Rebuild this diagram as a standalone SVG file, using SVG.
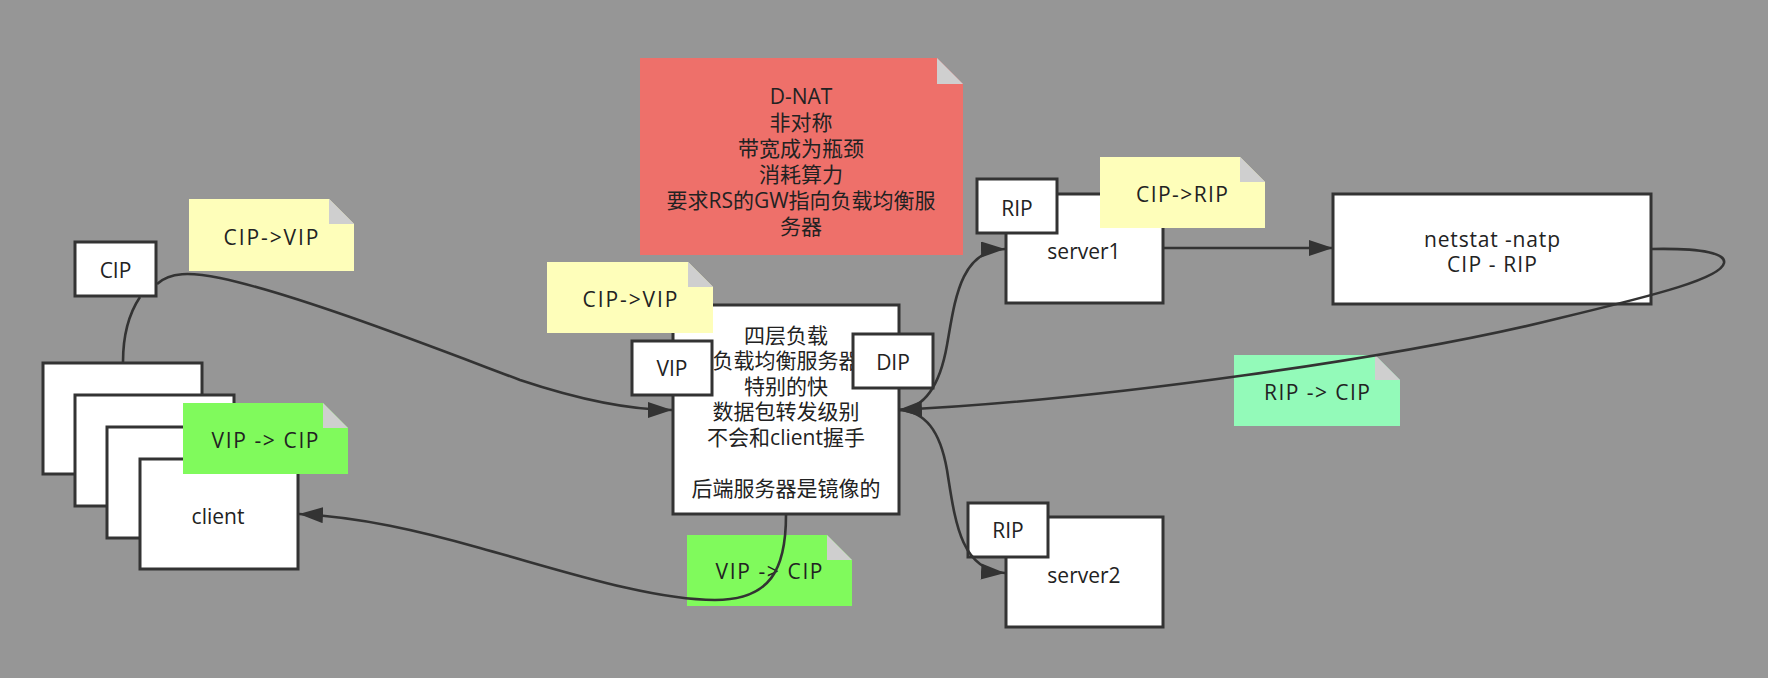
<svg xmlns="http://www.w3.org/2000/svg" width="1768" height="678" viewBox="0 0 1768 678">
  <style>
    text { font-family: 'Open Sans', 'Noto Sans CJK SC', sans-serif; font-size: 21px; fill: #222; text-anchor: middle; }
    .box { fill: #fff; stroke: #333; stroke-width: 3; }
    .fold { fill: #cfcfcf; }
    .yellow { fill: #fefeba; }
    .green { fill: #80fa5c; }
    .mint { fill: #93fab9; }
    .red { fill: #ee706a; }
    .edge { fill: none; stroke: #333; stroke-width: 2.6; }
  </style>
  <defs>
    <marker id="arrow" markerUnits="userSpaceOnUse" markerWidth="26" markerHeight="18" refX="24" refY="8" orient="auto">
      <path d="M0,0 L24,8 L0,16 Z" fill="#333"/>
    </marker>
  </defs>

  <rect width="1768" height="678" fill="#969696"/>

  <!-- client stack -->
  <g id="client">
    <rect class="box" x="43" y="363" width="159" height="111"/>
    <rect class="box" x="75" y="395" width="159" height="111"/>
    <rect class="box" x="107" y="427" width="159" height="111"/>
    <rect class="box" x="140" y="459" width="158" height="110"/>
    <text x="218" y="524">client</text>
  </g>

  <g id="cip">
    <rect class="box" x="75" y="242" width="81" height="54"/>
    <text x="115.5" y="278">CIP</text>
  </g>

  <!-- layer-4 load balancer -->
  <g id="lb">
    <rect class="box" x="673" y="305" width="226" height="209"/>
    <text x="786" y="342.6">四层负载<tspan x="786" dy="25.6">负载均衡服务器</tspan><tspan x="786" dy="25.6">特别的快</tspan><tspan x="786" dy="25.6">数据包转发级别</tspan><tspan x="786" dy="25.6">不会和client握手</tspan><tspan x="786" dy="51.2">后端服务器是镜像的</tspan></text>
  </g>

  <g id="vip">
    <rect class="box" x="632" y="341" width="80" height="54"/>
    <text x="672" y="376">VIP</text>
  </g>

  <g id="dip">
    <rect class="box" x="853" y="334" width="80" height="54"/>
    <text x="893" y="370">DIP</text>
  </g>

  <g id="server1">
    <rect class="box" x="1006" y="194" width="157" height="109"/>
    <text x="1084" y="259">server1</text>
  </g>

  <g id="rip1">
    <rect class="box" x="977" y="179" width="80" height="54"/>
    <text x="1017" y="215.5">RIP</text>
  </g>

  <g id="netstat">
    <rect class="box" x="1333" y="194" width="318" height="110"/>
    <text x="1492" y="247" textLength="136" lengthAdjust="spacing">netstat -natp</text>
    <text x="1492" y="272" textLength="90" lengthAdjust="spacing">CIP - RIP</text>
  </g>

  <g id="server2">
    <rect class="box" x="1006" y="517" width="157" height="110"/>
    <text x="1084" y="583">server2</text>
  </g>

  <g id="rip2">
    <rect class="box" x="968" y="503" width="80" height="54"/>
    <text x="1008" y="538">RIP</text>
  </g>

  <!-- notes: body with folded top-right corner -->
  <g id="note-cip-vip-1">
    <path class="yellow" d="M189,199 H329 L354,224 V271 H189 Z"/>
    <path class="fold" d="M329,199 V224 H354 Z"/>
    <text x="271" y="245" textLength="95" lengthAdjust="spacing">CIP-&gt;VIP</text>
  </g>

  <g id="note-vip-cip-1">
    <path class="green" d="M183,403 H323 L348,428 V474 H183 Z"/>
    <path class="fold" d="M323,403 V428 H348 Z"/>
    <text x="265" y="447.5" textLength="107" lengthAdjust="spacing">VIP -&gt; CIP</text>
  </g>

  <g id="note-cip-vip-2">
    <path class="yellow" d="M547,262 H688 L713,287 V333 H547 Z"/>
    <path class="fold" d="M688,262 V287 H713 Z"/>
    <text x="630" y="307" textLength="95" lengthAdjust="spacing">CIP-&gt;VIP</text>
  </g>

  <g id="note-vip-cip-2">
    <path class="green" d="M687,535 H827 L852,560 V606 H687 Z"/>
    <path class="fold" d="M827,535 V560 H852 Z"/>
    <text x="769" y="579" textLength="107" lengthAdjust="spacing">VIP -&gt; CIP</text>
  </g>

  <g id="note-dnat">
    <path class="red" d="M640,58 H937 L963,84 V255 H640 Z"/>
    <path class="fold" d="M937,58 V84 H963 Z"/>
    <text x="801" y="104">D-NAT<tspan x="801" dy="26">非对称</tspan><tspan x="801" dy="26">带宽成为瓶颈</tspan><tspan x="801" dy="26">消耗算力</tspan><tspan x="801" dy="26">要求RS的GW指向负载均衡服</tspan><tspan x="801" dy="26">务器</tspan></text>
  </g>

  <g id="note-cip-rip">
    <path class="yellow" d="M1100,157 H1240 L1265,182 V228 H1100 Z"/>
    <path class="fold" d="M1240,157 V182 H1265 Z"/>
    <text x="1182" y="202" textLength="92" lengthAdjust="spacing">CIP-&gt;RIP</text>
  </g>

  <g id="note-rip-cip">
    <path class="mint" d="M1234,355 H1375 L1400,380 V426 H1234 Z"/>
    <path class="fold" d="M1375,355 V380 H1400 Z"/>
    <text x="1317" y="400" textLength="106" lengthAdjust="spacing">RIP -&gt; CIP</text>
  </g>

  <!-- connectors -->
  <g id="edges">
    <path class="edge" d="M140,297 C128,315 123,335 123,362"/>
    <path class="edge" marker-end="url(#arrow)" d="M157,284 C170,272 190,272 220,278 C300,295 440,350 520,380 C580,400 630,410 672,410"/>
    <path class="edge" marker-end="url(#arrow)" d="M786,515 C786,570 770,600 715,600 C650,600 560,570 480,548 C420,531 360,517 299,514"/>
    <path class="edge" marker-end="url(#arrow)" d="M900,410 C925,408 940,385 947,345 C955,300 960,250 1005,249"/>
    <path class="edge" marker-end="url(#arrow)" d="M900,410 C925,412 940,430 947,470 C955,520 960,570 1005,573"/>
    <path class="edge" marker-end="url(#arrow)" d="M1164,248 L1333,248"/>
    <path class="edge" marker-end="url(#arrow)" d="M1652,249 C1705,248 1726,254 1724,263 C1721,278 1660,294 1560,318 C1400,358 1100,400 898,410"/>
  </g>
</svg>
